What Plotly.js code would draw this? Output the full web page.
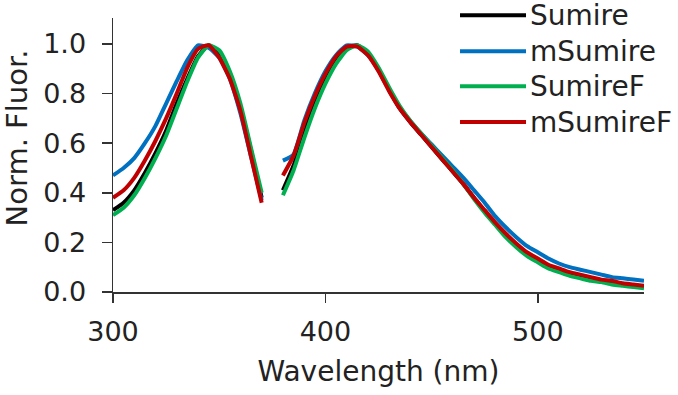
<!DOCTYPE html>
<html>
<head>
<meta charset="utf-8">
<script src="https://cdn.plot.ly/plotly-3.0.1.min.js"></script>
<style>html,body{margin:0;padding:0;background:#fff;}#chart{width:678px;height:395px;}</style>
</head>
<body>
<div id="chart"></div>
<script>
// Wavelengths (nm): excitation 300-370, gap, emission 380-550
const wavelengths = [300,305,310,315,320,325,330,335,340,345,350,355,360,365,370,375,
  380,385,390,395,400,405,410,415,420,425,430,435,440,445,450,455,460,465,470,475,480,485,490,495,500,505,510,515,520,525,530,535,540,545,550];

const seriesNames = ["Sumire","mSumire","SumireF","mSumireF"];
const seriesColors = ["#000000","#0070c0","#00b050","#c00000"];

const sumire = [0.33,0.36,0.41,0.48,0.56,0.65,0.76,0.86,0.95,0.995,0.965,0.88,0.745,0.57,0.38,null,
  0.41,0.51,0.64,0.76,0.86,0.935,0.985,0.995,0.96,0.895,0.815,0.74,0.685,0.635,0.585,0.535,0.485,0.435,0.38,0.325,0.275,0.23,0.19,0.155,0.125,0.10,0.085,0.07,0.06,0.05,0.045,0.035,0.03,0.025,0.02];
const mSumire = [0.47,0.50,0.54,0.60,0.67,0.76,0.85,0.935,0.995,0.985,0.945,0.86,0.72,0.545,0.37,null,
  0.53,0.555,0.69,0.80,0.89,0.955,0.995,0.99,0.955,0.895,0.815,0.745,0.69,0.64,0.595,0.55,0.505,0.46,0.41,0.36,0.305,0.26,0.22,0.185,0.16,0.135,0.115,0.10,0.09,0.08,0.07,0.06,0.055,0.05,0.045];
const sumireF = [0.31,0.34,0.39,0.46,0.54,0.63,0.74,0.85,0.945,0.995,0.975,0.89,0.76,0.58,0.40,null,
  0.39,0.49,0.62,0.74,0.84,0.92,0.975,0.995,0.97,0.905,0.825,0.75,0.69,0.64,0.59,0.54,0.49,0.435,0.375,0.32,0.27,0.22,0.18,0.145,0.12,0.095,0.08,0.065,0.055,0.045,0.04,0.03,0.025,0.02,0.015];
const mSumireF = [0.38,0.41,0.46,0.53,0.61,0.70,0.80,0.905,0.98,0.995,0.945,0.86,0.73,0.545,0.36,null,
  0.47,0.55,0.68,0.79,0.88,0.95,0.99,0.99,0.955,0.89,0.81,0.74,0.685,0.635,0.585,0.535,0.485,0.435,0.38,0.33,0.28,0.235,0.195,0.16,0.135,0.11,0.095,0.08,0.07,0.06,0.05,0.045,0.035,0.03,0.025];

const xTicks = [300,400,500];
const yTicks = [0,0.2,0.4,0.6,0.8,1.0];
const yTickText = ["0.0","0.2","0.4","0.6","0.8","1.0"];

const allY = [sumire, mSumire, sumireF, mSumireF];
const traces = allY.map((ys,i)=>({
  x: wavelengths, y: ys, type:'scatter', mode:'lines', name: seriesNames[i],
  connectgaps:false, line:{color:seriesColors[i], width:4, shape:'spline', smoothing:0.5},
  showlegend:false
}));

const fontFam = 'DejaVu Sans, sans-serif';
// custom legend (long line samples like the reference)
const legRowsY = [1.01, 0.879, 0.751, 0.620];
const shapes = [], annotations = [];
seriesNames.forEach((n,i)=>{
  shapes.push({type:'line', xref:'paper', yref:'paper', x0:0.6535, x1:0.7778, y0:legRowsY[i], y1:legRowsY[i],
    line:{color:seriesColors[i], width:4}});
  annotations.push({xref:'paper', yref:'paper', x:0.781, y:legRowsY[i], xanchor:'left', yanchor:'middle',
    text:n, showarrow:false, font:{family:fontFam, size:28, color:'#222'}});
});
// y-axis title placed as in the reference (centred slightly above the plot middle)
annotations.push({xref:'paper', yref:'paper', x:-0.180, y:0.562, xanchor:'center', yanchor:'middle',
  text:'Norm. Fluor.', textangle:-90, showarrow:false, font:{family:fontFam, size:29, color:'#222'}});

const layout = {
  width:678, height:395,
  margin:{l:113, r:34, t:18, b:103},
  paper_bgcolor:'#fff', plot_bgcolor:'#fff',
  font:{family:fontFam, color:'#222'},
  xaxis:{range:[300,550], tickvals:xTicks, ticktext:xTicks.map(String), ticks:'outside', ticklen:9, tickwidth:1.5,
    tickcolor:'#333', showline:true, linecolor:'#333', linewidth:1.5, showgrid:false, zeroline:false,
    tickfont:{size:27, family:fontFam, color:'#222'}, ticklabelstandoff:6,
    title:{text:'Wavelength (nm)', font:{size:28, family:fontFam, color:'#222'}, standoff:15}},
  yaxis:{range:[0,1.105], tickvals:yTicks, ticktext:yTickText, ticks:'outside', ticklen:10, tickwidth:1.5,
    tickcolor:'#333', showline:true, linecolor:'#333', linewidth:1.5, showgrid:false, zeroline:false,
    tickfont:{size:27, family:fontFam, color:'#222'}, ticklabelstandoff:10},
  shapes:shapes, annotations:annotations, showlegend:false
};
Plotly.newPlot('chart', traces, layout, {displayModeBar:false, staticPlot:true});
</script>
</body>
</html>
